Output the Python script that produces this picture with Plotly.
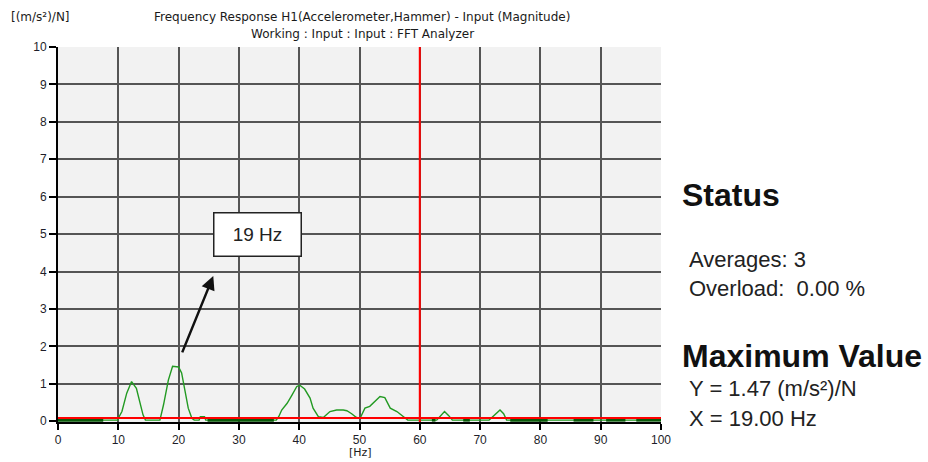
import plotly.graph_objects as go

# Frequency response H1 magnitude, (m/s^2)/N versus Hz
freq_hz = [0, 9.9, 10.0, 10.6, 11.4, 12.2, 13.0, 13.6, 14.1, 14.5,
           16.9, 17.5, 18.3, 19.0, 19.5, 20.0, 20.5, 21.1, 21.6, 22.2, 22.6,
           23.4, 23.6, 24.3, 24.5,
           36.2, 36.6, 37.1, 38.0, 38.8, 39.6, 40.1, 40.9, 41.8, 42.3, 43.2,
           44.0, 45.1, 46.2, 47.3, 47.9, 48.7, 49.5, 50.1, 50.9, 51.7, 52.6,
           53.4, 54.2, 55.1, 56.2, 57.5, 58.0,
           62.8, 63.4, 64.1, 64.8, 65.4,
           71.5, 72.3, 73.3, 73.9, 74.4, 100]
magnitude = [0.03, 0.03, 0.08, 0.26, 0.75, 1.06, 0.88, 0.53, 0.17, 0.03,
             0.03, 0.44, 1.10, 1.47, 1.47, 1.45, 1.29, 0.75, 0.35, 0.08, 0.03,
             0.03, 0.12, 0.12, 0.03,
             0.03, 0.12, 0.30, 0.48, 0.70, 0.93, 0.96, 0.86, 0.62, 0.35, 0.12,
             0.10, 0.26, 0.30, 0.30, 0.28, 0.20, 0.10, 0.08, 0.35, 0.40, 0.53,
             0.66, 0.63, 0.35, 0.26, 0.10, 0.03,
             0.03, 0.15, 0.26, 0.15, 0.03,
             0.03, 0.15, 0.30, 0.20, 0.03, 0.03]

# Baseline noise bands sitting on the zero line
noise_start = [0.0, 24.8, 62.0, 67.2, 75.0, 85.5, 90.9, 95.9]
noise_end = [7.5, 35.8, 62.6, 68.3, 81.2, 88.8, 94.1, 100.0]
noise_level = 0.03

x_ticks = [0, 10, 20, 30, 40, 50, 60, 70, 80, 90, 100]
y_ticks = [0, 1, 2, 3, 4, 5, 6, 7, 8, 9, 10]

cursor_x = 60.0
cursor_y = 0.09
peak_label = "19 Hz"
peak_from = (20.5, 1.8)
peak_to = (25.75, 3.88)
label_pos = (33.1, 4.99)

status_lines = ["Averages: 3", "Overload:  0.00 %"]
maxval_lines = ["Y = 1.47 (m/s²)/N", "X = 19.00 Hz"]

W, H = 928, 462
L, R, T, B = 58, 661, 47, 422


def px(xp):
    return (xp - L) / (R - L)


def py(yp):
    return (B - yp) / (B - T)


nx, ny = [], []
for a, b in zip(noise_start, noise_end):
    nx += [a, b, None]
    ny += [noise_level, noise_level, None]

fig = go.Figure()
fig.add_trace(go.Scatter(x=freq_hz, y=magnitude, mode="lines",
                         line=dict(color="#229a22", width=1.4),
                         showlegend=False))
fig.add_trace(go.Scatter(x=nx, y=ny, mode="lines",
                         line=dict(color="#0a5a0a", width=3),
                         hoverinfo="skip", showlegend=False))

# Cursors
fig.add_shape(type="line", xref="x", yref="y", x0=cursor_x, x1=cursor_x,
              y0=-0.02, y1=10, line=dict(color="#ff0000", width=2))
fig.add_shape(type="line", xref="x", yref="y", x0=0, x1=100,
              y0=cursor_y, y1=cursor_y, line=dict(color="#ff0000", width=2))

tick_font = dict(family="Liberation Sans", size=12, color="#1e1e2a")
fig.update_xaxes(range=[0, 100], tickvals=x_ticks, showgrid=True,
                 gridcolor="#555555", gridwidth=1.5, showline=True,
                 linecolor="black", linewidth=2, ticks="outside", ticklen=6,
                 tickcolor="black", tickwidth=1.5, tickfont=tick_font,
                 zeroline=False, fixedrange=True)
fig.update_yaxes(range=[-0.02, 10], tickvals=y_ticks, showgrid=True,
                 gridcolor="#555555", gridwidth=1.5, showline=True,
                 linecolor="black", linewidth=2, ticks="outside", ticklen=7,
                 tickcolor="black", tickwidth=1.5, tickfont=tick_font,
                 zeroline=False, fixedrange=True)

ann = []
small = dict(family="DejaVu Sans", size=12, color="#1a1a1a")
ann.append(dict(text="Frequency Response H1(Accelerometer,Hammer) - Input (Magnitude)",
                xref="paper", yref="paper", x=px(362), y=py(17),
                showarrow=False, font=small, xanchor="center", yanchor="middle"))
ann.append(dict(text="Working : Input : Input : FFT Analyzer",
                xref="paper", yref="paper", x=px(362), y=py(34),
                showarrow=False, font=small, xanchor="center", yanchor="middle"))
ann.append(dict(text="[(m/s²)/N]", xref="paper", yref="paper", x=px(9), y=py(17),
                showarrow=False, font=small, xanchor="left", yanchor="middle"))
ann.append(dict(text="[Hz]", xref="paper", yref="paper", x=px(360), y=py(452),
                showarrow=False, font=dict(family="DejaVu Sans", size=11, color="#1a1a1a"),
                xanchor="center", yanchor="middle"))

# Peak marker
ann.append(dict(x=peak_to[0], y=peak_to[1], ax=peak_from[0], ay=peak_from[1],
                xref="x", yref="y", axref="x", ayref="y", text="",
                showarrow=True, arrowhead=2, arrowsize=1.1, arrowwidth=2.5,
                arrowcolor="#111111"))
ann.append(dict(x=label_pos[0], y=label_pos[1], xref="x", yref="y",
                text=peak_label, showarrow=False,
                font=dict(family="Liberation Sans", size=19, color="#222222"),
                bgcolor="white", bordercolor="#222222", borderwidth=1.5,
                width=86, height=42, borderpad=0))

# Side panel
big = dict(family="Liberation Sans", size=32, color="#111111")
mid = dict(family="Liberation Sans", size=22, color="#222222")
ann.append(dict(text="<b>Status</b>", xref="paper", yref="paper", x=px(680),
                y=py(195), showarrow=False, font=big, xanchor="left", yanchor="middle"))
for i, s in enumerate(status_lines):
    ann.append(dict(text=s, xref="paper", yref="paper", x=px(687),
                    y=py(259 + 29 * i), showarrow=False, font=mid,
                    xanchor="left", yanchor="middle"))
ann.append(dict(text="<b>Maximum Value</b>", xref="paper", yref="paper", x=px(680),
                y=py(356), showarrow=False, font=big, xanchor="left", yanchor="middle"))
for i, s in enumerate(maxval_lines):
    ann.append(dict(text=s, xref="paper", yref="paper", x=px(687),
                    y=py(388 + 30 * i), showarrow=False, font=mid,
                    xanchor="left", yanchor="middle"))

fig.update_layout(width=W, height=H,
                  margin=dict(l=L, r=W - R, t=T, b=H - B, pad=0),
                  paper_bgcolor="white", plot_bgcolor="#f2f2f2",
                  annotations=ann, showlegend=False)

fig.write_html("out.html")
